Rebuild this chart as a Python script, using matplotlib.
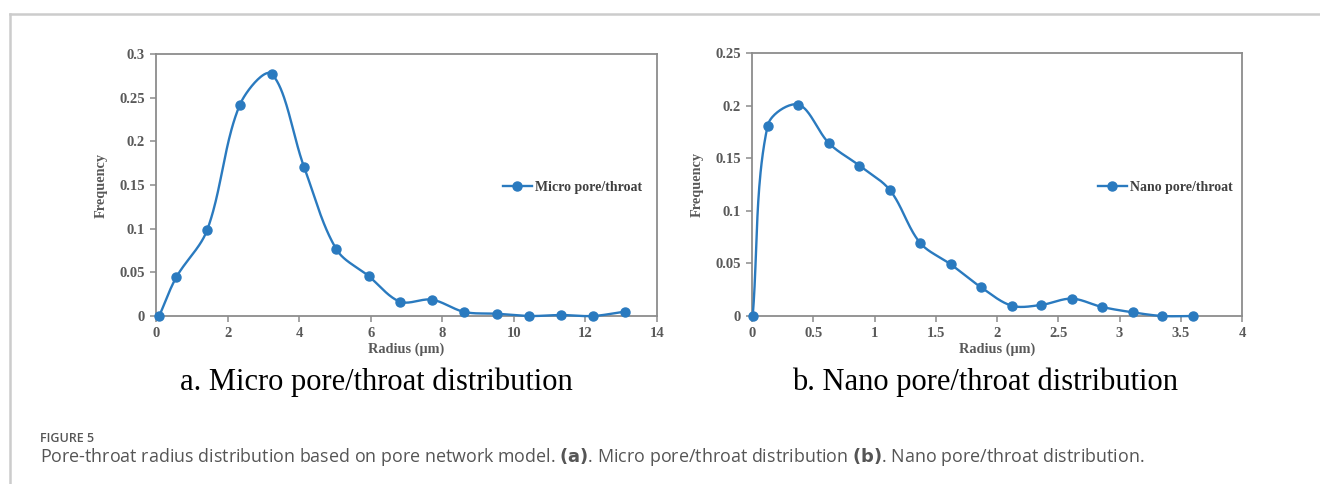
import numpy as np
import matplotlib
matplotlib.use("Agg")
import matplotlib.pyplot as plt
from matplotlib.ticker import FuncFormatter
from matplotlib.lines import Line2D

# ---- data ----
micro_radius = [0.09, 0.566, 1.43, 2.34, 3.23, 4.14, 5.04, 5.94, 6.82, 7.71,
                8.62, 9.52, 10.43, 11.33, 12.21, 13.1]
micro_freq = [0.0, 0.0443, 0.0985, 0.2416, 0.2772, 0.1703, 0.0764, 0.0458, 0.0164,
              0.0187, 0.0046, 0.0026, 0.0, 0.0011, 0.0, 0.005]
nano_radius = [0.006, 0.128, 0.378, 0.63, 0.876, 1.127, 1.371, 1.624, 1.866, 2.12,
               2.36, 2.61, 2.857, 3.107, 3.35, 3.6]
nano_freq = [0.0, 0.181, 0.201, 0.164, 0.143, 0.1195, 0.0697, 0.049, 0.0276, 0.0098,
             0.0105, 0.0165, 0.0086, 0.0035, 0.0, 0.0]
micro_xticks = [0, 2, 4, 6, 8, 10, 12, 14]
micro_yticks = [0, 0.05, 0.1, 0.15, 0.2, 0.25, 0.3]
nano_xticks = [0, 0.5, 1, 1.5, 2, 2.5, 3, 3.5, 4]
nano_yticks = [0, 0.05, 0.1, 0.15, 0.2, 0.25]

BLUE = "#2a7abf"
GRAY = "#595959"
SPINE = "#8c8c8c"
SERIF = ["Liberation Serif", "DejaVu Serif"]


def smooth(xs, ys, sx, sy, n=40):
    """Bezier smoothing (Excel-like) computed in pixel space, sx/sy = px per unit."""
    p = np.column_stack([np.asarray(xs) * sx, np.asarray(ys) * sy]).astype(float)
    m = len(p)
    out = []
    t = np.linspace(0, 1, n)[:, None]

    def dist(a, b):
        return np.hypot(*(p[b] - p[a]))

    for i in range(m - 1):
        P0, P3 = p[i], p[i + 1]
        d = dist(i, i + 1)
        if i > 0:
            T = p[i + 1] - p[i - 1]
            dp = dist(i - 1, i)
            P1 = P0 + T * d / (dp + d) / 3.0
        else:
            P1 = P0 + (P3 - P0) / 3.0
        if i + 2 < m:
            T = p[i + 2] - p[i]
            dn = dist(i + 1, i + 2)
            P2 = P3 - T * d / (dn + d) / 3.0
        else:
            P2 = P3 - (P3 - P0) / 3.0
        seg = ((1 - t) ** 3) * P0 + 3 * ((1 - t) ** 2) * t * P1 + 3 * (1 - t) * t ** 2 * P2 + t ** 3 * P3
        out.append(seg if i == 0 else seg[1:])
    s = np.vstack(out)
    return s[:, 0] / sx, s[:, 1] / sy


W, H = 1320, 484
fig = plt.figure(figsize=(W / 100, H / 100), dpi=100)
fig.patch.set_facecolor("white")

# outer L frame
fig.add_artist(Line2D([10 / W, 1], [1 - 14 / H, 1 - 14 / H], color="#cccccc", lw=1.8, transform=fig.transFigure))
fig.add_artist(Line2D([10 / W, 10 / W], [0, 1 - 14 / H], color="#cccccc", lw=1.8, transform=fig.transFigure))

fmt = FuncFormatter(lambda v, pos: ("%g" % round(v, 4)))


def make_ax(rect_px, xs, ys, xticks, yticks, label, legx):
    l, t, r, b = rect_px
    ax = fig.add_axes([l / W, 1 - b / H, (r - l) / W, (b - t) / H])
    pxx = (r - l) / (xticks[-1] - xticks[0])
    pxy = (b - t) / (yticks[-1] - yticks[0])
    sx, sy = smooth(xs, ys, pxx, pxy)
    ax.plot(sx, sy, color=BLUE, lw=1.7, zorder=3, clip_on=False)
    ax.plot(xs, ys, "o", color=BLUE, ms=6.5, zorder=4, clip_on=False)
    ax.set_xlim(xticks[0], xticks[-1])
    ax.set_ylim(yticks[0], yticks[-1])
    ax.set_xticks(xticks)
    ax.set_yticks(yticks)
    ax.xaxis.set_major_formatter(fmt)
    ax.yaxis.set_major_formatter(fmt)
    for s in ax.spines.values():
        s.set_color(SPINE)
        s.set_linewidth(1.3)
    ax.tick_params(direction="out", length=4, width=1.1, color=SPINE, labelcolor=GRAY,
                   labelsize=10.5, pad=4)
    for lab in ax.get_xticklabels() + ax.get_yticklabels():
        lab.set_fontfamily(SERIF)
        lab.set_fontweight("bold")
    ax.set_xlabel("Radius (\u03bcm)", fontfamily=SERIF, fontweight="bold", color=GRAY,
                  fontsize=10.3, labelpad=2)
    ax.set_ylabel("Frequency", fontfamily=SERIF, fontweight="bold", color=GRAY,
                  fontsize=10.3, labelpad=8)
    h = Line2D([], [], color=BLUE, lw=1.7, marker="o", ms=6.5)
    leg = ax.legend([h], [label], loc="center left", bbox_to_anchor=(legx, 0.49),
                    frameon=False, handlelength=2.1, handletextpad=0.2,
                    prop={"family": SERIF, "weight": "bold", "size": 10})
    for tx in leg.get_texts():
        tx.set_color("#404040")
    return ax


make_ax((156, 54, 657, 316), micro_radius, micro_freq, micro_xticks, micro_yticks,
        "Micro pore/throat", 0.667)
make_ax((752, 53, 1242, 316), nano_radius, nano_freq, nano_xticks, nano_yticks,
        "Nano pore/throat", 0.68)

fig.text(376 / W, 1 - 382 / H, "a. Micro pore/throat distribution", ha="center", va="center",
         fontfamily=SERIF, fontsize=22, color="black")
fig.text(985 / W, 1 - 382 / H, "b. Nano pore/throat distribution", ha="center", va="center",
         fontfamily=SERIF, fontsize=22, color="black")

fig.text(40 / W, 1 - 438 / H, "FIGURE 5", ha="left", va="center",
         fontfamily="Open Sans", fontweight="semibold", fontsize=9, color="#555555")
fig.text(40 / W, 1 - 457 / H,
         r"Pore-throat radius distribution based on pore network model. $\mathbf{(a)}$. Micro pore/throat distribution $\mathbf{(b)}$. Nano pore/throat distribution.",
         ha="left", va="center", fontfamily="Open Sans", fontsize=12.9, color="#555555")

fig.savefig("out.png", dpi=100)
